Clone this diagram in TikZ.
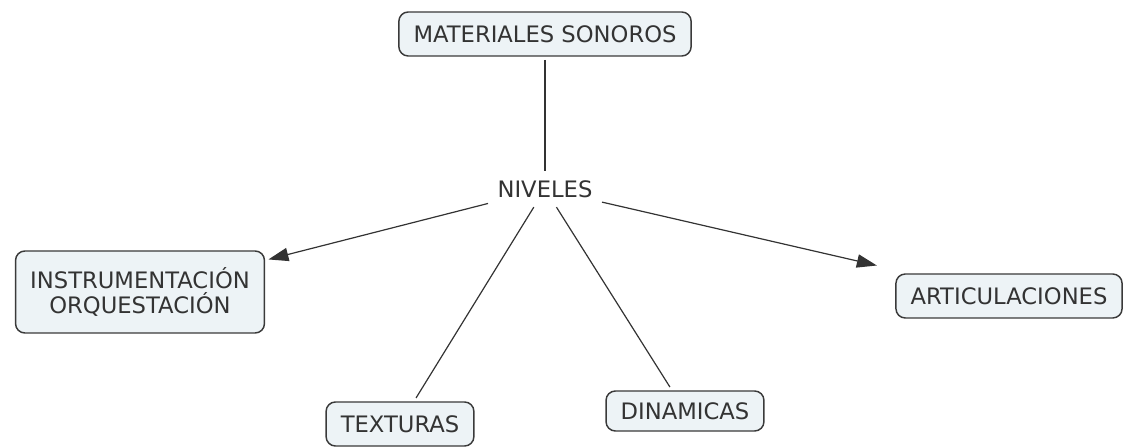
\documentclass[tikz,border=0pt]{standalone}
\usepackage{fontspec}
\setmainfont{DejaVu Sans}
\usetikzlibrary{arrows.meta,positioning}
\definecolor{boxfill}{HTML}{EDF3F6}
\definecolor{boxline}{HTML}{3A3A3A}
\definecolor{inkgray}{HTML}{333333}

\begin{document}
\begin{tikzpicture}[x=0.75pt,y=-0.75pt,
  concept/.style={draw=boxline,fill=boxfill,rounded corners=7pt,line width=1.1pt,
    align=center,font=\fontsize{17}{19}\selectfont,text=inkgray,
    inner xsep=11pt,minimum height=33pt,outer sep=3pt},
  phrase/.style={font=\fontsize{17}{19}\selectfont,text=inkgray,inner sep=7pt},
  link/.style={draw=inkgray,line width=0.9pt},
  linkarrow/.style={link,-{Triangle[length=15pt,width=10pt]}}
]
\useasboundingbox (0,0) rectangle (1134,448);
\node[concept] (materiales) at (545,34) {MATERIALES SONOROS};
\node[phrase] (niveles) at (545,189) {NIVELES};
\node[concept,minimum height=61.5pt] (instrum) at (140,292) {INSTRUMENTACIÓN\\ORQUESTACIÓN};
\node[concept] (artic) at (1009,296) {ARTICULACIONES};
\node[concept] (texturas) at (400,424) {TEXTURAS};
\node[concept,minimum height=30pt] (dinamicas) at (685,411) {DINAMICAS};

\draw[link] (materiales) -- (niveles);
\draw[linkarrow] (niveles) -- (instrum);
\draw[linkarrow,shorten >=15pt] (niveles) -- (artic);
\draw[link] (niveles) -- (texturas);
\draw[link] (niveles) -- (dinamicas);
\end{tikzpicture}
\end{document}
